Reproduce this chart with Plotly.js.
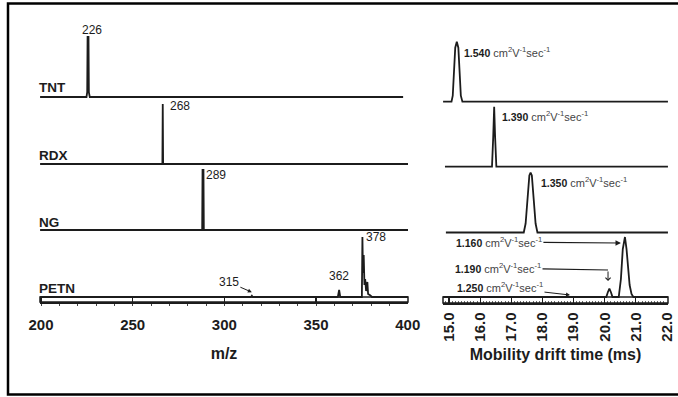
<!DOCTYPE html>
<html><head><meta charset="utf-8">
<script src="https://cdn.plot.ly/plotly-3.0.1.min.js"></script>
<style>html,body{margin:0;padding:0;background:#fff}#chart{width:678px;height:397px}</style>
</head><body><div id="chart"></div>
<script>
// ---- Mass spectra (m/z vs relative intensity) ----
const compounds = ['TNT', 'RDX', 'NG', 'PETN'];
const tntMz   = [199.5, 224.8, 225.2, 225.4, 225.9, 226.1, 226.6, 397.5];
const tntInt  = [0, 0, 8, 100, 100, 8, 0, 0];
const rdxMz   = [199.5, 266.2, 266.4, 266.6, 400.2];
const rdxInt  = [0, 0, 100, 0, 0];
const ngMz    = [199.5, 287.9, 288.1, 288.6, 288.8, 400.2];
const ngInt   = [0, 0, 100, 100, 0, 0];
const petnMz  = [199.5, 314.5, 315, 315.5, 361.9, 362.6, 363.2, 375.0, 375.3, 375.6, 376.0, 376.4, 376.8, 377.3, 378.0, 378.4, 379.5, 380.5, 400.2];
const petnInt = [0, 0, 2, 0, 0, 12, 0, 0, 100, 40, 70, 20, 30, 10, 25, 5, 3, 0, 0];
const msPeakLabels = ['226', '268', '289', '378', '362', '315'];

// ---- Ion mobility spectra (drift time ms vs relative intensity) ----
const tntDrift  = [14.81, 15.08, 15.12, 15.16, 15.20, 15.25, 15.30, 15.34, 15.38, 15.43, 22.03];
const tntImsI   = [0, 0, 10, 50, 90, 100, 90, 50, 10, 0, 0];
const rdxDrift  = [14.87, 16.38, 16.42, 16.45, 16.48, 16.52, 22.03];
const rdxImsI   = [0, 0, 50, 100, 50, 0, 0];
const ngDrift   = [14.90, 17.40, 17.46, 17.52, 17.58, 17.62, 17.66, 17.72, 17.78, 17.84, 22.03];
const ngImsI    = [0, 0, 15, 55, 95, 100, 95, 55, 15, 0, 0];
const petnDrift = [14.81, 18.85, 18.90, 18.95, 20.05, 20.10, 20.15, 20.20, 20.25, 20.45, 20.52, 20.58, 20.65, 20.70, 20.76, 20.80, 20.86, 20.92, 22.03];
const petnImsI  = [0, 0, 1, 0, 0, 8, 14, 8, 0, 0, 30, 80, 100, 80, 40, 20, 5, 0, 0];
const mobilityLabels = ['1.540', '1.390', '1.350', '1.160', '1.190', '1.250'];
const msTicks  = [200, 250, 300, 350, 400];
const imsTicks = [15, 16, 17, 18, 19, 20, 21, 22];

const W = 678, H = 397;
const px = x => x / W;
const py = y => 1 - y / H;
const dom = base => [py(base + 2), py(base - 62)];
const FONT = 'Liberation Sans, Arial, sans-serif';
const INK = '#1c1c1c';

const msX = [tntMz, rdxMz, ngMz, petnMz];
const msY = [tntInt, rdxInt, ngInt, petnInt];
const imX = [tntDrift, rdxDrift, ngDrift, petnDrift];
const imY = [tntImsI, rdxImsI, ngImsI, petnImsI];

const traces = [];
for (let i = 0; i < 4; i++) {
  traces.push({x: msX[i], y: msY[i], xaxis: 'x', yaxis: i === 0 ? 'y' : 'y' + (i + 1),
    type: 'scatter', mode: 'lines', line: {color: INK, width: 1.8}, hoverinfo: 'skip', name: compounds[i]});
}
for (let i = 0; i < 4; i++) {
  traces.push({x: imX[i], y: imY[i], xaxis: 'x2', yaxis: 'y' + (i + 5),
    type: 'scatter', mode: 'lines', line: {color: INK, width: 1.8}, hoverinfo: 'skip', name: compounds[i] + ' IMS'});
}

const leftBase = [97, 164, 230, 297];
const rightBase = [101.7, 166.7, 232.5, 297];
const yBase = {visible: false, range: [-3.333, 103.333], fixedrange: true};

const layout = {
  width: W, height: H,
  margin: {l: 0, r: 0, t: 0, b: 0},
  paper_bgcolor: '#fff', plot_bgcolor: 'rgba(0,0,0,0)',
  showlegend: false,
  font: {family: FONT, color: INK},
  xaxis: {
    domain: [px(40), px(408)], range: [199.45, 400.16], anchor: 'free', position: py(302),
    tickmode: 'array', tickvals: msTicks, ticktext: msTicks.map(String),
    ticks: 'inside', ticklen: 5, tickwidth: 1.5, tickcolor: INK,
    minor: {ticks: 'outside', ticklen: 2, dtick: 10, tick0: 200, tickwidth: 1, tickcolor: '#444'},
    showline: true, linecolor: INK, linewidth: 1.5,
    showgrid: false, zeroline: false,
    tickfont: {size: 15, weight: 'bold', color: INK},
    ticklabelstandoff: 8,
    title: {text: 'm/z', font: {size: 16, weight: 'bold', color: INK}, standoff: 16}
  },
  xaxis2: {
    domain: [px(443), px(668)], range: [14.807, 22.032], anchor: 'free', position: py(303),
    tickmode: 'array', tickvals: imsTicks, ticktext: imsTicks.map(v => v.toFixed(1)),
    ticks: 'inside', ticklen: 6, tickwidth: 1.2, tickcolor: INK,
    minor: {ticks: 'inside', ticklen: 2.5, dtick: 0.1, tick0: 15, tickwidth: 0.8, tickcolor: '#444'},
    showline: true, linecolor: INK, linewidth: 1.5,
    showgrid: false, zeroline: false, tickangle: -90,
    tickfont: {size: 15, weight: 'bold', color: INK},
    ticklabelstandoff: 2,
    title: {text: 'Mobility drift time (ms)', font: {size: 16, weight: 'bold', color: INK}, standoff: 8}
  },
  shapes: [
    {type: 'rect', xref: 'paper', yref: 'paper', x0: px(8), x1: 1.05, y0: py(394.5), y1: py(3.5), line: {color: '#000', width: 2.5}},
    {type: 'rect', xref: 'paper', yref: 'paper', x0: px(40), x1: px(408), y0: py(302), y1: py(297), line: {color: INK, width: 1.5}},
    {type: 'rect', xref: 'paper', yref: 'paper', x0: px(443), x1: px(668), y0: py(303), y1: py(297), line: {color: INK, width: 1.5}}
  ],
  annotations: []
};
for (let i = 0; i < 4; i++) {
  layout[i === 0 ? 'yaxis' : 'yaxis' + (i + 1)] = Object.assign({}, yBase, {domain: dom(leftBase[i]), anchor: 'x'});
  layout['yaxis' + (i + 5)] = Object.assign({}, yBase, {domain: dom(rightBase[i]), anchor: 'x2'});
}

const A = layout.annotations;
// compound names
const nameY = [87.5, 155.5, 222, 288];
compounds.forEach((c, i) => A.push({text: c, xref: 'paper', yref: 'paper', x: px(37), y: py(nameY[i]),
  xanchor: 'left', yanchor: 'middle', showarrow: false, font: {size: 13.5, weight: 'bold', color: INK}}));

const lbl = {size: 12, color: INK};
// m/z peak labels
A.push({text: msPeakLabels[0], xref: 'x', yref: 'y',  x: tntMz[4], y: 100, xanchor: 'center', yanchor: 'middle', xshift: 3, yshift: 7, showarrow: false, font: lbl});
A.push({text: msPeakLabels[1], xref: 'x', yref: 'y2', x: rdxMz[2], y: 100, xanchor: 'left', yanchor: 'middle', xshift: 5, yshift: -2, showarrow: false, font: lbl});
A.push({text: msPeakLabels[2], xref: 'x', yref: 'y3', x: ngMz[3], y: 100, xanchor: 'left', yanchor: 'middle', xshift: 1, yshift: -5, showarrow: false, font: lbl});
A.push({text: msPeakLabels[3], xref: 'x', yref: 'y4', x: petnMz[8], y: 100, xanchor: 'left', yanchor: 'middle', xshift: 1.5, yshift: 0, showarrow: false, font: lbl});
A.push({text: msPeakLabels[4], xref: 'x', yref: 'y4', x: petnMz[5], y: 12, xanchor: 'center', yanchor: 'middle', yshift: 14, showarrow: false, font: lbl});
A.push({text: msPeakLabels[5], xref: 'x', yref: 'y4', x: petnMz[2], y: 8, ax: -23, ay: -10, showarrow: true,
  arrowhead: 2, arrowsize: 0.8, arrowwidth: 1, arrowcolor: INK, font: lbl});

// mobility labels
const unit = "<span style='font-size:11px;font-weight:normal;fill:#444'>cm<sup>2</sup>V<sup>-1</sup>sec<sup>-1</sup></span>";
const mob = i => '<b>' + mobilityLabels[i] + '</b> ' + unit;
const mf = {size: 10.5, color: INK};
A.push({text: mob(0), xref: 'x2', yref: 'y5', x: tntDrift[5], y: 100, xanchor: 'left', yanchor: 'middle', xshift: 5, yshift: -10, showarrow: false, font: mf});
A.push({text: mob(1), xref: 'x2', yref: 'y6', x: rdxDrift[3], y: 100, xanchor: 'left', yanchor: 'middle', xshift: 5.5, yshift: -9, showarrow: false, font: mf});
A.push({text: mob(2), xref: 'x2', yref: 'y7', x: ngDrift[5], y: 100, xanchor: 'left', yanchor: 'middle', xshift: 8, yshift: -9, showarrow: false, font: mf});
A.push({text: mob(3), xref: 'x2', yref: 'y8', x: 20.52, y: 90, ax: -122, ay: -1, showarrow: true,
  arrowhead: 2, arrowsize: 0.9, arrowwidth: 1.2, arrowcolor: INK, font: mf});
A.push({text: mob(4), xref: 'x2', yref: 'y8', x: 20.106, y: 45, ax: -110, ay: -2, showarrow: true,
  arrowhead: 0, arrowwidth: 1.2, arrowcolor: INK, font: mf});
A.push({text: '', xref: 'x2', yref: 'y8', x: 20.106, y: 26.7, ax: 0, ay: -11, showarrow: true,
  arrowhead: 4, arrowsize: 1, arrowwidth: 1, arrowcolor: INK});
A.push({text: mob(5), xref: 'x2', yref: 'y8', x: 18.885, y: 3.3, ax: -70, ay: -8, showarrow: true,
  arrowhead: 2, arrowsize: 0.8, arrowwidth: 1, arrowcolor: INK, font: mf});

Plotly.newPlot('chart', traces, layout, {staticPlot: true, displayModeBar: false});
</script>
</body></html>
